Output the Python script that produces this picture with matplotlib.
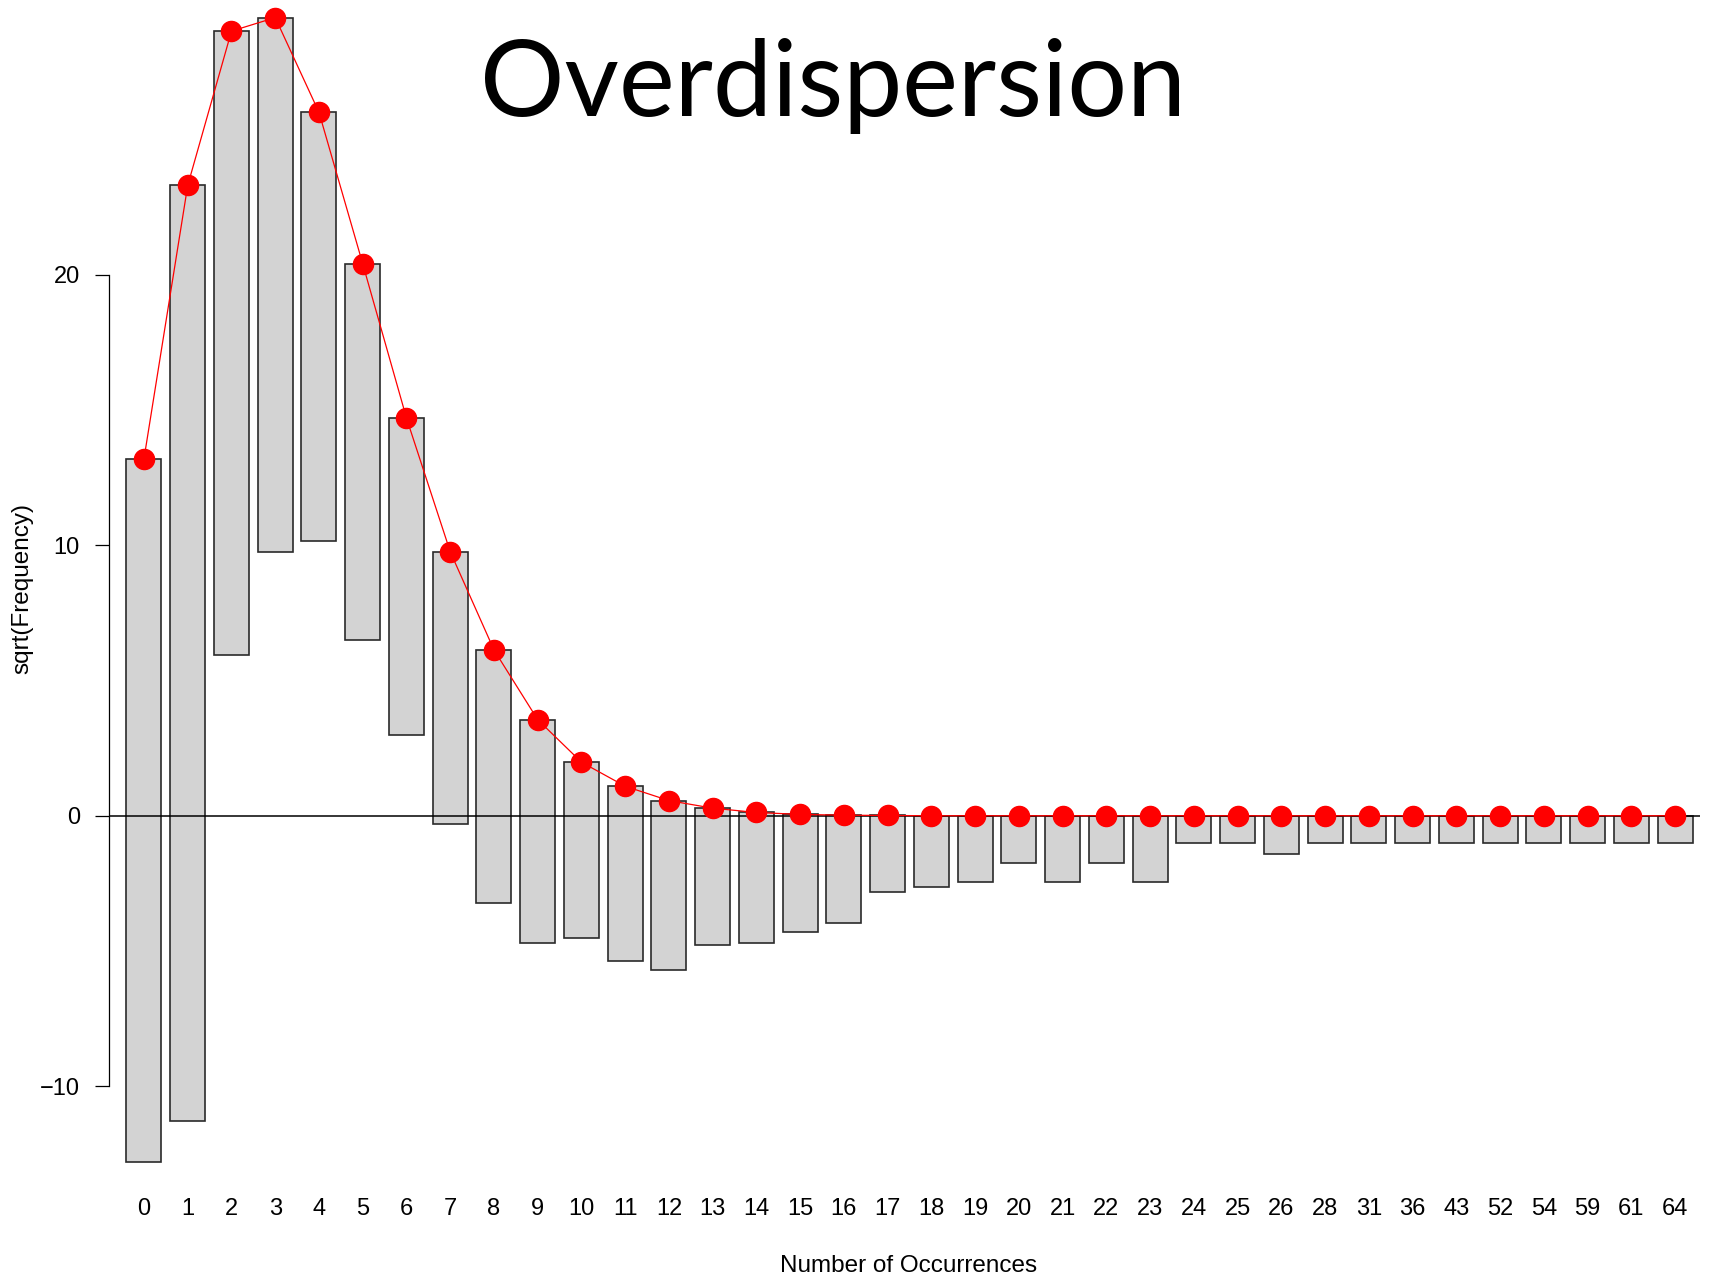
import matplotlib.pyplot as plt
import numpy as np

plt.rcParams['font.family'] = ['Liberation Sans', 'DejaVu Sans']

# hanging rootogram: categories, fitted sqrt(expected), observed sqrt(freq)
occurrences = ['0', '1', '2', '3', '4', '5', '6', '7', '8', '9', '10', '11', '12',
               '13', '14', '15', '16', '17', '18', '19', '20', '21', '22', '23',
               '24', '25', '26', '28', '31', '36', '43', '52', '54', '59', '61', '64']
expected_sqrt = [13.2, 23.3, 29.0, 29.5, 26.0, 20.4, 14.7, 9.76, 6.13, 3.55, 1.98,
                 1.09, 0.56, 0.28, 0.12, 0.05, 0.02, 0.01, 0.0, 0.0, 0.0, 0.0,
                 0.0, 0.0, 0.0, 0.0, 0.0, 0.0, 0.0, 0.0, 0.0, 0.0, 0.0, 0.0,
                 0.0, 0.0]
observed_sqrt = [26.0, 34.6, 23.07, 19.74, 15.84, 13.9, 11.7, 10.08, 9.36, 8.27,
                 6.5, 6.45, 6.25, 5.04, 4.84, 4.36, 4.0, 2.83, 2.65, 2.45, 1.73,
                 2.45, 1.73, 2.45, 1.0, 1.0, 1.41, 1.0, 1.0, 1.0, 1.0, 1.0, 1.0,
                 1.0, 1.0, 1.0]

W, H = 1711, 1279
fig = plt.figure(figsize=(W / 100, H / 100), dpi=100)
ax = fig.add_axes([109 / W, 1 - 1181 / H, (1700 - 109) / W, 1181 / H])

x = np.arange(len(occurrences))
expected = np.array(expected_sqrt)
observed = np.array(observed_sqrt)

ax.bar(x, observed, bottom=expected - observed, width=0.8,
       color='#d3d3d3', edgecolor='#2a2a2a', linewidth=1.2, zorder=2)
ax.axhline(0, color='black', linewidth=1.1, zorder=3)
ax.plot(x, expected, color='red', linewidth=0.9, marker='o', markersize=14.5,
        markerfacecolor='red', markeredgecolor='red', clip_on=False, zorder=4)

ax.set_xlim(-0.8, 35.57)
ax.set_ylim(-13.5, 30.15)

for s in ['top', 'right', 'bottom']:
    ax.spines[s].set_visible(False)
ax.spines['left'].set_bounds(-10, 20)
ax.spines['left'].set_linewidth(0.9)

ax.set_yticks([-10, 0, 10, 20])
ax.set_yticklabels(['\u221210', '0', '10', '20'])
ax.tick_params(axis='y', length=10.4, width=0.9, pad=10.5, labelsize=17)
ax.set_xticks(x)
ax.set_xticklabels(occurrences)
ax.tick_params(axis='x', length=0, pad=12.5, labelsize=17)

fig.text(22 / W, 1 - 589 / H, 'sqrt(Frequency)', rotation=90,
         ha='center', va='center', fontsize=17.5)
fig.text(909 / W, 1 - 1266 / H, 'Number of Occurrences',
         ha='center', va='center', fontsize=17.5)
fig.text(833 / W, 1 - 116 / H, 'Overdispersion', ha='center', va='baseline',
         fontsize=76, family=['Lato', 'DejaVu Sans'])

fig.savefig('out.png', dpi=100)
